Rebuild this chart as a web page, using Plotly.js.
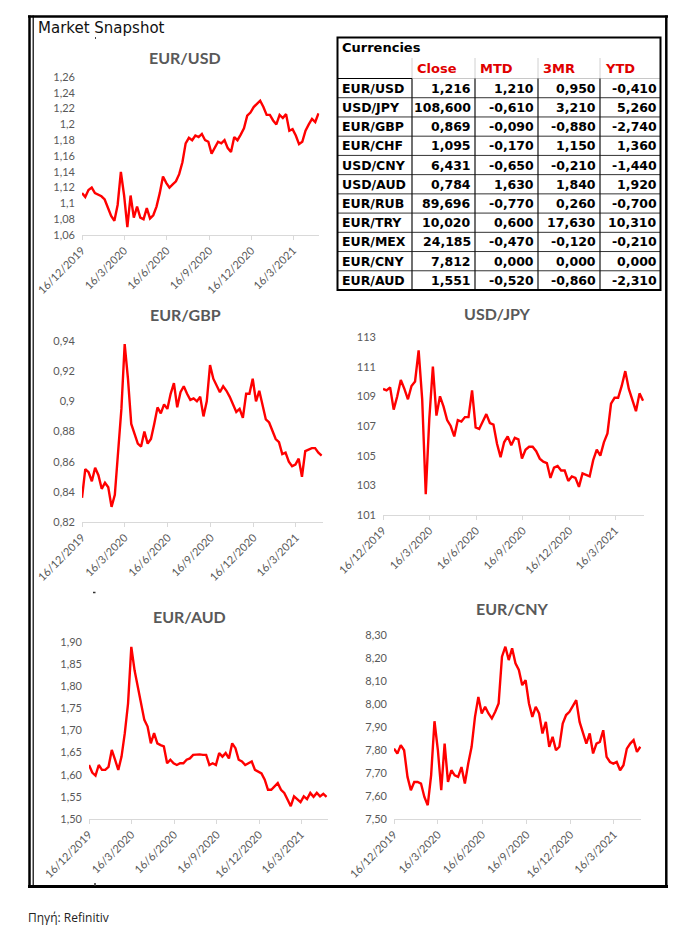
<!DOCTYPE html>
<html>
<head>
<meta charset="utf-8">
<script src="https://cdn.plot.ly/plotly-3.0.1.min.js"></script>
<style>html,body{margin:0;padding:0;background:#fff;}#chart{width:699px;height:944px;}</style>
</head>
<body>
<div id="chart"></div>
<script>
// ---------- DATA ----------
const dates = ["2019-12-16","2019-12-23","2019-12-30","2020-01-06","2020-01-13","2020-01-20","2020-01-27","2020-02-03","2020-02-10","2020-02-17",
"2020-02-24","2020-03-02","2020-03-09","2020-03-16","2020-03-23","2020-03-30","2020-04-06","2020-04-13","2020-04-20","2020-04-27",
"2020-05-04","2020-05-11","2020-05-18","2020-05-25","2020-06-01","2020-06-08","2020-06-15","2020-06-22","2020-06-29","2020-07-06",
"2020-07-13","2020-07-20","2020-07-27","2020-08-03","2020-08-10","2020-08-17","2020-08-24","2020-08-31","2020-09-07","2020-09-14",
"2020-09-21","2020-09-28","2020-10-05","2020-10-12","2020-10-19","2020-10-26","2020-11-02","2020-11-09","2020-11-16","2020-11-23",
"2020-11-30","2020-12-07","2020-12-14","2020-12-21","2020-12-28","2021-01-04","2021-01-11","2021-01-18","2021-01-25","2021-02-01",
"2021-02-08","2021-02-15","2021-02-22","2021-03-01","2021-03-08","2021-03-15","2021-03-22","2021-03-29","2021-04-05","2021-04-12",
"2021-04-19","2021-04-26","2021-05-03","2021-05-10"];

const eurusd = [1.113,1.108,1.117,1.120,1.113,1.111,1.109,1.105,1.094,1.084,
1.078,1.098,1.140,1.110,1.070,1.110,1.082,1.096,1.082,1.080,
1.094,1.081,1.085,1.096,1.113,1.134,1.126,1.120,1.124,1.128,
1.137,1.152,1.176,1.183,1.180,1.186,1.184,1.188,1.180,1.178,
1.163,1.170,1.178,1.176,1.180,1.170,1.165,1.184,1.180,1.187,
1.195,1.211,1.215,1.222,1.226,1.230,1.222,1.212,1.212,1.205,
1.200,1.212,1.208,1.213,1.192,1.194,1.186,1.175,1.178,1.192,
1.200,1.207,1.203,1.214];

const eurgbp = [0.836,0.855,0.853,0.847,0.856,0.851,0.842,0.846,0.843,0.830,
0.838,0.866,0.895,0.938,0.915,0.885,0.878,0.872,0.870,0.880,
0.872,0.875,0.885,0.896,0.892,0.898,0.895,0.905,0.912,0.896,
0.906,0.910,0.905,0.901,0.902,0.900,0.903,0.890,0.900,0.924,
0.915,0.910,0.906,0.910,0.907,0.903,0.898,0.893,0.895,0.889,
0.905,0.905,0.915,0.900,0.907,0.898,0.888,0.886,0.881,0.875,
0.873,0.865,0.866,0.860,0.857,0.858,0.862,0.850,0.867,0.868,
0.869,0.869,0.866,0.864];

const usdjpy = [109.5,109.4,109.6,108.1,109.0,110.1,109.5,108.8,109.7,110.0,
112.1,108.8,102.4,107.5,111.0,107.7,109.0,108.3,107.4,107.0,
106.3,107.4,107.3,107.6,107.6,109.4,106.9,106.8,107.3,107.8,
107.2,107.1,105.8,104.9,105.9,106.3,105.7,106.2,106.1,104.8,
105.4,105.6,105.6,105.3,104.8,104.6,104.5,103.5,104.2,104.3,
104.0,104.0,103.3,103.6,103.5,102.9,103.8,103.7,103.6,104.7,
105.4,105.0,105.9,106.5,108.5,108.9,108.9,109.7,110.7,109.5,
108.8,108.0,109.2,108.7];

const euraud = [1.622,1.605,1.598,1.622,1.611,1.611,1.618,1.656,1.634,1.611,
1.641,1.694,1.761,1.889,1.836,1.799,1.754,1.724,1.709,1.671,
1.694,1.671,1.667,1.664,1.626,1.634,1.626,1.622,1.626,1.626,
1.634,1.637,1.645,1.646,1.646,1.645,1.645,1.622,1.626,1.622,
1.649,1.641,1.649,1.637,1.671,1.660,1.634,1.630,1.622,1.626,
1.630,1.611,1.607,1.603,1.589,1.566,1.566,1.574,1.581,1.566,
1.559,1.544,1.529,1.551,1.545,1.538,1.551,1.545,1.559,1.550,
1.559,1.551,1.557,1.550];

const eurcny = [7.806,7.785,7.821,7.799,7.683,7.625,7.661,7.661,7.654,7.596,
7.560,7.690,7.925,7.800,7.625,7.828,7.661,7.712,7.690,7.683,
7.726,7.654,7.741,7.814,7.944,8.031,7.959,7.988,7.959,7.937,
7.966,8.002,8.206,8.249,8.191,8.242,8.177,8.148,8.082,8.104,
8.002,7.944,7.988,7.959,7.872,7.922,7.814,7.857,7.799,7.814,
7.915,7.952,7.966,7.995,8.017,7.922,7.872,7.828,7.872,7.785,
7.828,7.835,7.886,7.770,7.748,7.741,7.748,7.712,7.734,7.806,
7.828,7.843,7.792,7.814];

const xTickDates = ["2019-12-16","2020-03-16","2020-06-16","2020-09-16","2020-12-16","2021-03-16"];
const xTickLabels = ["16/12/2019","16/3/2020","16/6/2020","16/9/2020","16/12/2020","16/3/2021"];

const usdTicks = [1.06,1.08,1.10,1.12,1.14,1.16,1.18,1.20,1.22,1.24,1.26];
const usdTickLabels = ["1,06","1,08","1,1","1,12","1,14","1,16","1,18","1,2","1,22","1,24","1,26"];
const gbpTicks = [0.82,0.84,0.86,0.88,0.90,0.92,0.94];
const gbpTickLabels = ["0,82","0,84","0,86","0,88","0,9","0,92","0,94"];
const jpyTicks = [101,103,105,107,109,111,113];
const jpyTickLabels = ["101","103","105","107","109","111","113"];
const audTicks = [1.50,1.55,1.60,1.65,1.70,1.75,1.80,1.85,1.90];
const audTickLabels = ["1,50","1,55","1,60","1,65","1,70","1,75","1,80","1,85","1,90"];
const cnyTicks = [7.50,7.60,7.70,7.80,7.90,8.00,8.10,8.20,8.30];
const cnyTickLabels = ["7,50","7,60","7,70","7,80","7,90","8,00","8,10","8,20","8,30"];

const tablePairs = ["EUR/USD","USD/JPY","EUR/GBP","EUR/CHF","USD/CNY","USD/AUD","EUR/RUB","EUR/TRY","EUR/MEX","EUR/CNY","EUR/AUD"];
const tableClose = [1.216,108.600,0.869,1.095,6.431,0.784,89.696,10.020,24.185,7.812,1.551];
const tableMTD = [1.210,-0.610,-0.090,-0.170,-0.650,1.630,-0.770,0.600,-0.470,0.000,-0.520];
const table3MR = [0.950,3.210,-0.880,1.150,-0.210,1.840,0.260,17.630,-0.120,0.000,-0.860];
const tableYTD = [-0.410,5.260,-2.740,1.360,-1.440,1.920,-0.700,10.310,-0.210,0.000,-2.310];
const tableHeaders = ["Close","MTD","3MR","YTD"];

// ---------- LAYOUT HELPERS ----------
const W = 699, H = 944;
const fx = x => x / W;
const fy = y => 1 - y / H;

const charts = [
  {name:"EUR/USD", y:eurusd, tv:usdTicks, tt:usdTickLabels, range:[1.06,1.26], x0:82, x1:319.4, top:77, bot:235, tx:185, ty:58},
  {name:"EUR/GBP", y:eurgbp, tv:gbpTicks, tt:gbpTickLabels, range:[0.82,0.94], x0:82, x1:322.6, top:341, bot:522, tx:185, ty:314},
  {name:"USD/JPY", y:usdjpy, tv:jpyTicks, tt:jpyTickLabels, range:[101,113], x0:383, x1:644.1, top:337, bot:515, tx:497, ty:313},
  {name:"EUR/AUD", y:euraud, tv:audTicks, tt:audTickLabels, range:[1.50,1.90], x0:89, x1:327.5, top:642, bot:819, tx:190, ty:616},
  {name:"EUR/CNY", y:eurcny, tv:cnyTicks, tt:cnyTickLabels, range:[7.50,8.30], x0:394, x1:641.3, top:635, bot:819, tx:512, ty:608}
];

const tickFont = {family:"Lato, 'Open Sans', sans-serif", size:11, color:"#595959"};
const traces = [];
const layout = {
  width:W, height:H, margin:{l:0,r:0,t:0,b:0}, paper_bgcolor:"#fff", plot_bgcolor:"rgba(0,0,0,0)",
  showlegend:false, shapes:[], annotations:[]
};

charts.forEach((c, i) => {
  const n = i === 0 ? "" : String(i + 1);
  traces.push({type:"scatter", mode:"lines", x:dates, y:c.y, xaxis:"x"+n, yaxis:"y"+n,
    line:{color:"#ff0000", width:2.4}, hoverinfo:"skip"});
  layout["xaxis"+n] = {
    type:"date", domain:[fx(c.x0), fx(c.x1)], anchor:"y"+n, range:["2019-12-16","2021-05-12"],
    showline:true, linecolor:"#d9d9d9", linewidth:1, showgrid:false, zeroline:false,
    ticks:"outside", ticklen:4, tickcolor:"#d9d9d9", tickwidth:1,
    tickmode:"array", tickvals:xTickDates, ticktext:xTickLabels, tickangle:-45, tickfont:tickFont
  };
  layout["yaxis"+n] = {
    domain:[fy(c.bot), fy(c.top)], anchor:"x"+n, range:c.range,
    showline:false, showgrid:false, zeroline:false, ticks:"",
    tickmode:"array", tickvals:c.tv, ticktext:c.tt, tickfont:tickFont, ticklabelstandoff:6
  };
  layout.annotations.push({xref:"paper", yref:"paper", x:fx(c.tx), y:fy(c.ty), xanchor:"center", yanchor:"middle",
    text:"<b>"+c.name+"</b>", showarrow:false, font:{family:"Lato, 'Open Sans', sans-serif", size:16, color:"#595959"}});
});

function line(x0, y0, x1, y1, color, width) {
  layout.shapes.push({type:"line", xref:"paper", yref:"paper", x0:fx(x0), y0:fy(y0), x1:fx(x1), y1:fy(y1),
    line:{color:color, width:width}});
}
function text(x, y, str, opts) {
  layout.annotations.push(Object.assign({xref:"paper", yref:"paper", x:fx(x), y:fy(y), text:str, showarrow:false,
    xanchor:"left", yanchor:"middle"}, opts));
}

// Outer frame (double left/right)
line(28, 16.5, 668, 16.5, "#000", 2.5);
line(28, 886.5, 668, 886.5, "#000", 3);
line(29.5, 15.5, 29.5, 887.5, "#000", 2.5);
line(33.2, 15.5, 33.2, 886, "#000", 1.2);
line(666.3, 15.5, 666.3, 887.5, "#000", 2.5);

text(36, 28.5, "Market Snapshot", {font:{family:"'DejaVu Sans', Verdana, sans-serif", size:15, color:"#111"}});
text(26, 917, "Πηγή: Refinitiv", {font:{family:"'Open Sans', 'Noto Sans', sans-serif", size:12, color:"#222"}});

// small artefact marks
line(95.5, 37, 95.5, 39, "#444", 1);
line(93, 592.5, 95.5, 592.5, "#333", 1.5);
line(95, 883, 95, 886, "#333", 1.5);

// ---------- TABLE ----------
const tL = 337.5, tR = 660.5, tT = 37.5, tB = 290;
const colEdges = [tL, 412, 475, 538, 600, tR];
const rowTop = 78.5, rowH = (tB - rowTop) / tablePairs.length;
const fmt = v => v.toFixed(3).replace('.', ',');
const tblFont = "'DejaVu Sans', Verdana, sans-serif";

for (let k = 1; k < 5; k++) line(colEdges[k], 58, colEdges[k], rowTop, "#d0d0d0", 1);
line(colEdges[1], rowTop, tR, rowTop, "#c8c8c8", 1);
line(tL, rowTop, colEdges[1], rowTop, "#000", 1.2);
for (let r = 1; r < tablePairs.length; r++) line(tL, rowTop + r*rowH, tR, rowTop + r*rowH, "#333", 1);
for (let k = 1; k < 5; k++) line(colEdges[k], rowTop, colEdges[k], tB, "#111", 1.2);
layout.shapes.push({type:"rect", xref:"paper", yref:"paper", x0:fx(tL), x1:fx(tR), y0:fy(tB), y1:fy(tT),
  line:{color:"#000", width:2}});

text(340, 47.5, "<b>Currencies</b>", {font:{family:tblFont, size:13, color:"#000"}});
tableHeaders.forEach((h, k) => {
  text(colEdges[k+1] + 3, 68, "<b>"+h+"</b>", {font:{family:tblFont, size:13, color:"#e00000"}});
});
const cols = [tableClose, tableMTD, table3MR, tableYTD];
tablePairs.forEach((p, r) => {
  const yc = rowTop + (r + 0.5) * rowH;
  text(340, yc, "<b>"+p+"</b>", {font:{family:tblFont, size:12.5, color:"#000"}});
  cols.forEach((col, k) => {
    text(colEdges[k+2] - 2, yc, "<b>"+fmt(col[r])+"</b>", {xanchor:"right", font:{family:tblFont, size:12.5, color:"#000"}});
  });
});

Plotly.newPlot("chart", traces, layout, {staticPlot:true, displayModeBar:false});
</script>
</body>
</html>
